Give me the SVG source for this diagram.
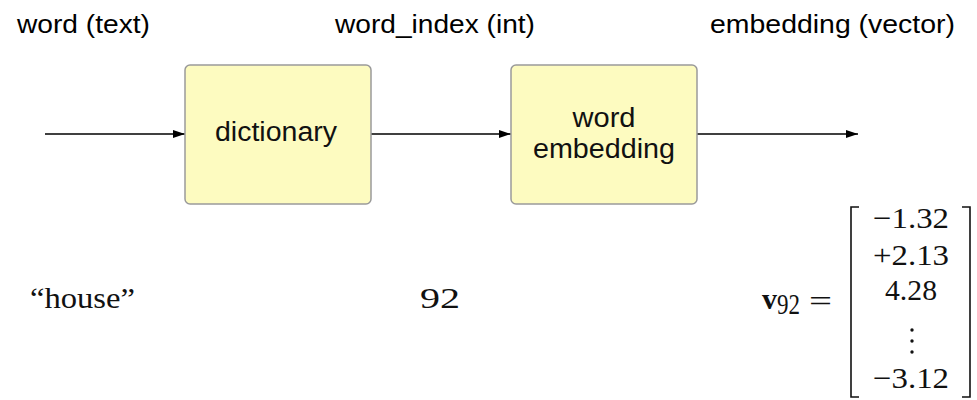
<svg xmlns="http://www.w3.org/2000/svg" width="977" height="400" viewBox="0 0 977 400">
<style>
.lbl{font-family:"Liberation Sans",Arial,sans-serif;font-size:26px;fill:#000}
.box{fill:#fdfbc0;stroke:#9a9a9a;stroke-width:1.5}
.btxt{font-family:"Liberation Sans",Arial,sans-serif;font-size:27px;fill:#111;text-anchor:middle}
.conn{stroke:#000;stroke-width:1.3;fill:none;marker-end:url(#ah)}
.math{font-family:"Liberation Serif","Times New Roman",serif;font-size:30px;fill:#111}
.br{stroke:#111;stroke-width:1.6;fill:none}
</style>
<defs>
<marker id="ah" markerWidth="12" markerHeight="8" refX="12" refY="4" orient="auto" markerUnits="userSpaceOnUse">
<path d="M0,0 L12,4 L0,8 Z" fill="#000"/>
</marker>
</defs>
<text class="lbl" x="17" y="33" textLength="133" lengthAdjust="spacingAndGlyphs">word (text)</text>
<text class="lbl" x="335" y="33" textLength="200" lengthAdjust="spacingAndGlyphs">word_index (int)</text>
<text class="lbl" x="710" y="33" textLength="245" lengthAdjust="spacingAndGlyphs">embedding (vector)</text>
<g id="connectors">
<line class="conn" x1="45" y1="134" x2="185" y2="134"/>
<line class="conn" x1="371" y1="134" x2="511" y2="134"/>
<line class="conn" x1="697" y1="134" x2="858" y2="134"/>
</g>
<g id="dictionary">
<rect class="box" x="185" y="65" width="186" height="139" rx="5"/>
<text class="btxt" x="276" y="141" textLength="122" lengthAdjust="spacingAndGlyphs">dictionary</text>
</g>
<g id="word_embedding">
<rect class="box" x="511" y="65" width="186" height="139" rx="5"/>
<text class="btxt" x="604" y="127" textLength="63" lengthAdjust="spacingAndGlyphs">word</text>
<text class="btxt" x="604" y="158" textLength="142" lengthAdjust="spacingAndGlyphs">embedding</text>
</g>
<text class="math" x="30" y="308" textLength="105" lengthAdjust="spacingAndGlyphs">“house”</text>
<text class="math" x="420" y="308" textLength="40" lengthAdjust="spacingAndGlyphs">92</text>
<text class="math" x="762" y="309" font-weight="bold" font-size="31">v</text>
<text class="math" x="777" y="314" font-size="21" textLength="23" lengthAdjust="spacingAndGlyphs">92</text>
<text class="math" x="809" y="311" textLength="23" lengthAdjust="spacingAndGlyphs">=</text>
<path class="br" d="M859,207 L851,207 L851,397 L859,397"/>
<path class="br" d="M962,207 L970,207 L970,397 L962,397"/>
<g class="math" text-anchor="middle">
<text x="911" y="228" textLength="76" lengthAdjust="spacingAndGlyphs">−1.32</text>
<text x="911" y="265" textLength="76" lengthAdjust="spacingAndGlyphs">+2.13</text>
<text x="911" y="300" textLength="52" lengthAdjust="spacingAndGlyphs">4.28</text>
<text x="911" y="388" textLength="76" lengthAdjust="spacingAndGlyphs">−3.12</text>
</g>
<circle cx="912" cy="330" r="1.7" fill="#111"/>
<circle cx="912" cy="341" r="1.7" fill="#111"/>
<circle cx="912" cy="352" r="1.7" fill="#111"/>
</svg>
